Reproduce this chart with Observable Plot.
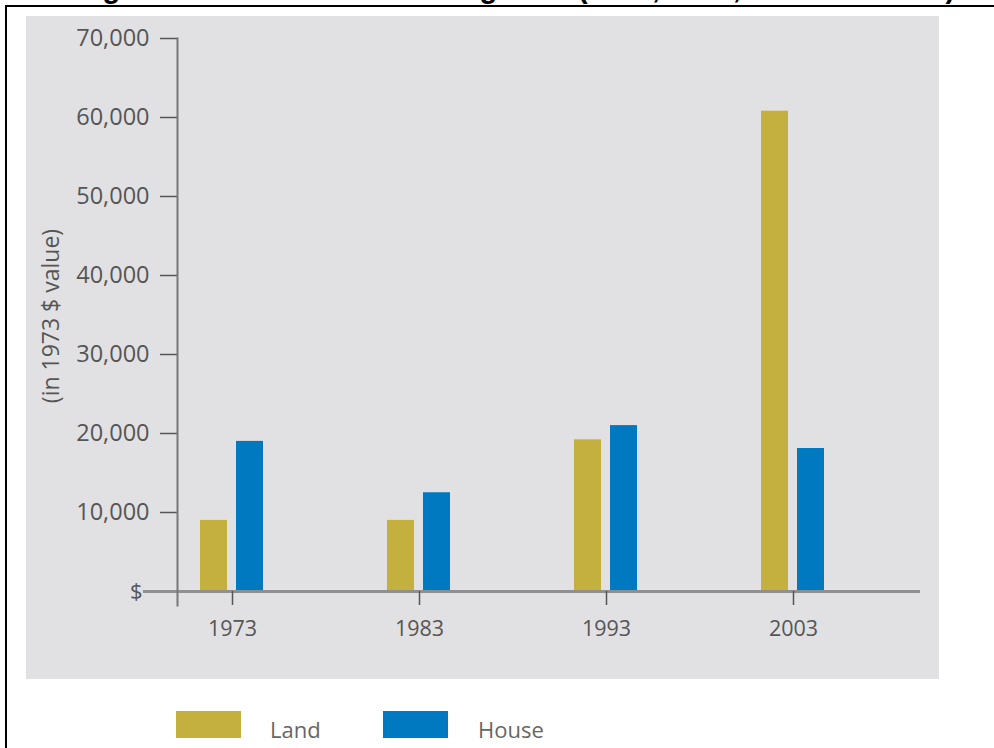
<!DOCTYPE html>
<html>
<head>
<meta charset="utf-8">
<script src="https://cdn.jsdelivr.net/npm/d3@7"></script>
<script src="https://cdn.jsdelivr.net/npm/@observablehq/plot@0.6"></script>
<style>
  html, body { margin: 0; padding: 0; background: #fff; }
  #page { position: relative; width: 994px; height: 748px; overflow: hidden; }
  #title { position: absolute; left: 23px; top: -26px; white-space: nowrap;
    font: bold 29px/29px "Liberation Sans", Arial, sans-serif; color: #000; }
  #border { position: absolute; left: 5px; top: 5px; right: 0; bottom: 0;
    border-left: 2px solid #000; border-top: 2px solid #000; background: transparent; }
  #chart { position: absolute; left: 26px; top: 16px; }
  .sw { position: absolute; top: 711px; width: 65px; height: 27px; }
  .lt { position: absolute; top: 714px; font: 22px "Open Sans", sans-serif; color: #666; }
</style>
</head>
<body>
<div id="page">
  <div id="title">Average Land Values and Housing Cost (1973, 1983, 1993 and 2003)</div>
  <div id="border"></div>
  <div id="chart"></div>
  <div id="legend"></div>
</div>
<script>
const years = ["1973", "1983", "1993", "2003"];
const landValues = [9000, 9000, 19200, 60800];
const houseValues = [19000, 12500, 21000, 18100];
const yTicks = [10000, 20000, 30000, 40000, 50000, 60000, 70000];
const seriesNames = ["Land", "House"];
const seriesColors = ["#c3b03e", "#0079c1"];
const yLabel = "(in 1973 $ value)";

const landData = years.map((year, i) => ({year, value: landValues[i]}));
const houseData = years.map((year, i) => ({year, value: houseValues[i]}));

const chart = Plot.plot({
  width: 913,
  height: 663,
  marginLeft: 151,
  marginRight: 19,
  marginTop: 22,
  marginBottom: 74,
  style: {background: "#e1e1e3", fontFamily: "'Open Sans', sans-serif", overflow: "visible"},
  x: {domain: years, paddingInner: 0.5, paddingOuter: 0.2333, align: 0.094},
  y: {domain: [0, 70000], insetBottom: 14},
  marks: [
    Plot.barY(landData, {x: "year", y: "value", fill: seriesColors[0], insetLeft: 15, insetRight: 52}),
    Plot.barY(houseData, {x: "year", y: "value", fill: seriesColors[1], insetLeft: 51, insetRight: 16}),
    Plot.ruleY([0], {stroke: "#8f8f8f", strokeWidth: 3}),
    Plot.axisY(yTicks, {tickSize: 17, tickPadding: 11, tickFormat: d3.format(","), fontSize: 23.5, color: "#555", strokeWidth: 1.5, label: null}),
    Plot.axisY([0], {tickSize: 34, tickPadding: 1, tickFormat: () => "$", fontSize: 22, stroke: "#8f8f8f", fill: "#555", strokeWidth: 3, label: null}),
    Plot.axisX({tickSize: 14, dy: -14, tickPadding: 15, fontSize: 21.5, color: "#555", strokeWidth: 1.5, label: null}),
    Plot.frame({anchor: "left", stroke: "#777", strokeWidth: 2}),
    Plot.text([yLabel], {frameAnchor: "left", textAnchor: "middle", rotate: -90, dx: -126, dy: -6, fontSize: 23, fill: "#555"})
  ]
});
document.getElementById("chart").appendChild(chart);

const legend = document.getElementById("legend");
const swLeft = [176, 383];
const txtLeft = [270, 478];
seriesNames.forEach((name, i) => {
  const sw = document.createElement("div");
  sw.className = "sw";
  sw.style.left = swLeft[i] + "px";
  sw.style.background = seriesColors[i];
  legend.appendChild(sw);
  const t = document.createElement("div");
  t.className = "lt";
  t.style.left = txtLeft[i] + "px";
  t.textContent = name;
  legend.appendChild(t);
});
</script>
</body>
</html>
